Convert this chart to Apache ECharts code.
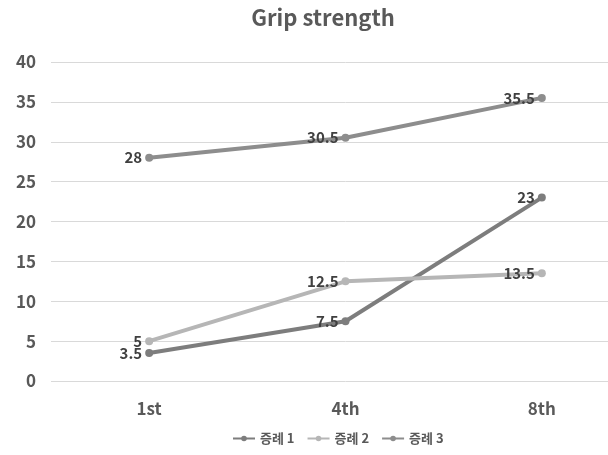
<!DOCTYPE html>
<html><head><meta charset="utf-8">
<script src="https://cdn.jsdelivr.net/npm/echarts@6/dist/echarts.min.js"></script>
<style>html,body{margin:0;padding:0;background:#fff;overflow:hidden;width:608px;height:455px}#c{width:640px;height:455px}</style>
</head><body><div id="c"></div>
<script>
const categories = ['1st', '4th', '8th'];
const seriesNames = ['증례 1', '증례 2', '증례 3'];
const case1 = [3.5, 7.5, 23];
const case2 = [5, 12.5, 13.5];
const case3 = [28, 30.5, 35.5];
const yTicks = { min: 0, max: 40, interval: 5 };

const font = '"Noto Sans CJK KR", "Noto Sans", sans-serif';
const colors = ['#7d7d7d', '#b6b6b6', '#8d8d8d'];
const datasets = [case1, case2, case3];

const chart = echarts.init(document.getElementById('c'));
chart.setOption({
  animation: false,
  title: {
    text: 'Grip strength', left: 318, top: 2, textAlign: 'center',
    textStyle: { fontFamily: font, fontWeight: 'bold', fontSize: 22, color: '#595959' }
  },
  legend: {
    bottom: 5, left: 227, itemWidth: 22, itemHeight: 7, itemGap: 12,
    textStyle: { fontFamily: font, fontWeight: 'bold', fontSize: 13, color: '#595959' },
    data: seriesNames
  },
  grid: { left: 51, right: 0, top: 62, bottom: 74, containLabel: false },
  xAxis: {
    type: 'category', data: categories, boundaryGap: true,
    axisLine: { show: false }, axisTick: { show: false },
    axisLabel: { margin: 19, fontFamily: font, fontWeight: 'bold', fontSize: 17, color: '#595959' }
  },
  yAxis: {
    type: 'value', min: yTicks.min, max: yTicks.max, interval: yTicks.interval,
    axisLine: { show: false }, axisTick: { show: false },
    splitLine: { lineStyle: { color: '#d9d9d9', width: 1 } },
    axisLabel: { margin: 15, fontFamily: font, fontWeight: 'bold', fontSize: 17, color: '#595959' }
  },
  series: seriesNames.map((n, i) => ({
    name: n, type: 'line', data: datasets[i],
    color: colors[i],
    lineStyle: { width: 4, color: colors[i] },
    symbol: 'circle', symbolSize: 8,
    itemStyle: { color: colors[i] },
    label: {
      show: true, position: 'left', distance: 3,
      fontFamily: font, fontWeight: 'bold', fontSize: 15, color: '#404040'
    }
  }))
});
</script></body></html>
